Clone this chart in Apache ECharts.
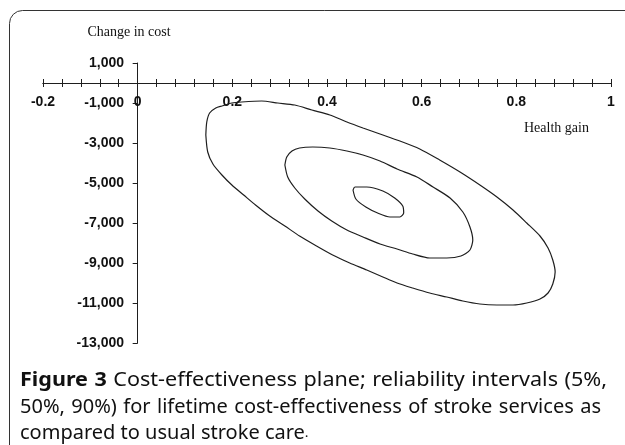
<!DOCTYPE html>
<html>
<head>
<meta charset="utf-8">
<script src="https://cdn.jsdelivr.net/npm/echarts@6/dist/echarts.min.js"></script>
<style>
html,body{margin:0;padding:0;background:#fff;}
#c{width:625px;height:445px;}
</style>
</head>
<body>
<div id="c"></div>
<script>
// Tick labels
const xLabels = [-0.2, 0, 0.2, 0.4, 0.6, 0.8, 1];
const yTicks = [-13000, -11000, -9000, -7000, -5000, -3000, -1000, 1000];

// Contour series (health gain, change in cost)
const contour90 = [
  [0.144,-2600],[0.146,-1950],[0.152,-1500],[0.165,-1250],[0.178,-1150],[0.199,-1000],
  [0.220,-950],[0.262,-900],[0.296,-1000],[0.332,-1100],[0.368,-1350],[0.406,-1600],
  [0.442,-1950],[0.476,-2250],[0.512,-2550],[0.554,-2900],[0.596,-3300],[0.638,-3850],
  [0.681,-4450],[0.723,-5100],[0.759,-5700],[0.793,-6350],[0.822,-7000],[0.850,-7650],
  [0.867,-8250],[0.877,-8850],[0.882,-9450],[0.877,-10050],[0.867,-10500],[0.850,-10800],
  [0.822,-11000],[0.793,-11100],[0.759,-11100],[0.723,-11050],[0.687,-10900],[0.653,-10700],
  [0.617,-10500],[0.581,-10250],[0.548,-10000],[0.518,-9700],[0.484,-9350],[0.448,-9000],
  [0.412,-8600],[0.378,-8150],[0.342,-7650],[0.311,-7150],[0.279,-6650],[0.249,-6100],
  [0.224,-5600],[0.199,-5100],[0.178,-4600],[0.159,-4050],[0.148,-3450],[0.144,-2600]
];
const contour50 = [
  [0.311,-4100],[0.315,-3700],[0.326,-3400],[0.342,-3250],[0.370,-3200],[0.406,-3250],
  [0.442,-3400],[0.476,-3600],[0.512,-3900],[0.548,-4300],[0.590,-4700],[0.624,-5200],
  [0.660,-5750],[0.687,-6450],[0.702,-7200],[0.708,-7850],[0.702,-8350],[0.683,-8650],
  [0.653,-8750],[0.617,-8750],[0.581,-8550],[0.548,-8300],[0.512,-8050],[0.476,-7700],
  [0.442,-7350],[0.410,-6900],[0.381,-6400],[0.353,-5800],[0.332,-5250],[0.317,-4700],
  [0.311,-4100]
];
const contour5 = [
  [0.455,-5350],[0.459,-5200],[0.484,-5200],[0.518,-5400],[0.543,-5750],[0.560,-6150],
  [0.562,-6500],[0.554,-6700],[0.533,-6700],[0.507,-6500],[0.482,-6200],[0.461,-5800],
  [0.455,-5350]
];
const contourLabels = [
  [0.482,-6600,'5%'],
  [0.622,-9250,'50%'],
  [0.759,-11850,'90%']
];

// Caption lines (text tokens; second item = bold)
const captionLine1 = [['Figure',1],['3',1],['Cost-effectiveness',0],['plane;',0],['reliability',0],['intervals',0],['(5%,',0]];
const captionLine2 = [['50%,',0],['90%)',0],['for',0],['lifetime',0],['cost-effectiveness',0],['of',0],['stroke',0],['services',0],['as',0]];
const captionLine3 = 'compared to usual stroke care';

function fmtThousands(v){
  const s = Math.abs(v).toString().replace(/\B(?=(\d{3})+(?!\d))/g, ',');
  return (v < 0 ? '-' : '') + s;
}

const CAP_FONT = 'Noto Sans';
const CAP_SIZE = 20;
const mctx = document.createElement('canvas').getContext('2d');
function measure(t, bold){
  mctx.font = (bold ? 'bold ' : '') + CAP_SIZE + 'px "' + CAP_FONT + '"';
  return mctx.measureText(t).width;
}
// justify a line: words stretched slightly, gaps kept near natural width
function justifiedLine(tokens, x0, x1, y, gap){
  let total = 0;
  tokens.forEach(function(t){ total += measure(t[0], t[1]); });
  const sx = Math.max(1, (x1 - x0 - gap * (tokens.length - 1)) / total);
  const g = (x1 - x0 - total * sx) / (tokens.length - 1);
  const els = [];
  let x = x0;
  tokens.forEach(function(t){
    els.push({type:'text', x:x, y:y, scaleX:sx, silent:true, style:{text:t[0], fontFamily:CAP_FONT,
      fontSize:CAP_SIZE, fontWeight:t[1] ? 'bold' : 'normal', fill:'#111', verticalAlign:'middle', align:'left'}});
    x += measure(t[0], t[1]) * sx + g;
  });
  return els;
}

const chart = echarts.init(document.getElementById('c'), null, {renderer:'canvas'});
const lineColor = '#1e1e1e';
const axisFont = {fontFamily:'Liberation Sans', fontWeight:'bold', fontSize:14, color:'#111'};

function contourSeries(data){
  return {
    type:'line', data:data, xAxisIndex:0, yAxisIndex:0,
    showSymbol:false, symbol:'none', smooth:0.25,
    lineStyle:{color:lineColor, width:1.2},
    silent:true
  };
}

const graphics = [
  {type:'rect', shape:{x:9.5, y:10.5, width:640, height:450, r:13},
    style:{fill:null, stroke:'#333', lineWidth:1}, silent:true, z:-1},
  {type:'text', x:129, y:32, style:{text:'Change in cost', fontFamily:'Liberation Serif',
    fontSize:14, fill:'#111', align:'center', verticalAlign:'middle'}},
  {type:'text', x:524, y:128, style:{text:'Health gain', fontFamily:'Liberation Serif',
    fontSize:14, fill:'#111', align:'left', verticalAlign:'middle'}},
  {type:'text', x:20, y:433, style:{
    text:captionLine3 + '{p|.}',
    fontFamily:CAP_FONT, fontSize:CAP_SIZE, fill:'#111', verticalAlign:'middle',
    rich:{p:{fontFamily:'Liberation Serif', fontSize:15, fill:'#111'}}}}
].concat(justifiedLine(captionLine1, 20, 607, 380, 6.5))
 .concat(justifiedLine(captionLine2, 20, 601, 407, 6.5));

chart.setOption({
  animation:false,
  backgroundColor:'#fff',
  grid:{left:43, right:14, top:63, bottom:102, containLabel:false, outerBoundsMode:'none'},
  xAxis:[{
    type:'value', min:-0.2, max:1, interval:0.04, position:'bottom',
    axisLine:{show:true, onZero:true, onZeroAxisIndex:0, lineStyle:{color:lineColor, width:1}},
    axisTick:{show:true, inside:false, length:4, lineStyle:{color:lineColor}},
    axisLabel:Object.assign({show:true, margin:-241, verticalAlign:'middle', customValues:xLabels,
      formatter:function(v){return String(Math.round(v*10)/10);}}, axisFont),
    splitLine:{show:false}
  },{
    type:'value', min:-0.2, max:1, interval:0.04, position:'top',
    axisLine:{show:true, onZero:true, onZeroAxisIndex:0, lineStyle:{color:lineColor, width:1}},
    axisTick:{show:true, inside:false, length:4, lineStyle:{color:lineColor}},
    axisLabel:{show:false},
    splitLine:{show:false}
  }],
  yAxis:{
    type:'value', min:-13000, max:1000,
    axisLine:{show:true, onZero:true, onZeroAxisIndex:0, lineStyle:{color:lineColor, width:1}},
    axisTick:{show:true, inside:false, length:5, customValues:yTicks, lineStyle:{color:lineColor}},
    axisLabel:Object.assign({show:true, margin:-81, align:'right', customValues:yTicks, formatter:fmtThousands}, axisFont),
    splitLine:{show:false}
  },
  series:[
    contourSeries(contour90),
    contourSeries(contour50),
    contourSeries(contour5),
    {
      type:'scatter', data:contourLabels, xAxisIndex:0, yAxisIndex:0,
      symbolSize:1, itemStyle:{opacity:0}, silent:true,
      label:{show:true, position:'inside', formatter:function(p){return p.value[2];},
        fontFamily:'Liberation Sans', fontSize:12, color:'#222'}
    }
  ],
  graphic:graphics
});
</script>
</body>
</html>
